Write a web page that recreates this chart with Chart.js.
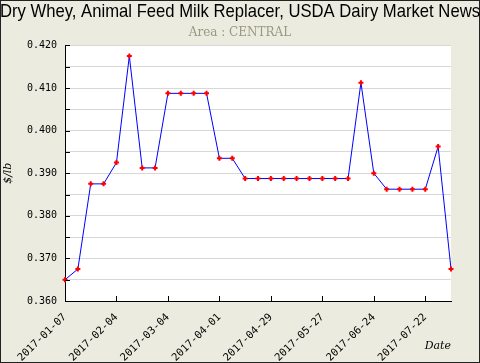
<!DOCTYPE html>
<html>
<head>
<meta charset="utf-8">
<script src="https://cdn.jsdelivr.net/npm/chart.js@4"></script>
<style>
  html, body { margin: 0; padding: 0; background: #fff; }
  canvas { display: block; }
</style>
</head>
<body>
<canvas id="wheyChart" width="480" height="363"></canvas>
<script>
// weekly report dates
const dates = [
    "2017-01-07", "2017-01-14", "2017-01-21", "2017-01-28",
    "2017-02-04", "2017-02-11", "2017-02-18", "2017-02-25",
    "2017-03-04", "2017-03-11", "2017-03-18", "2017-03-25",
    "2017-04-01", "2017-04-08", "2017-04-15", "2017-04-22",
    "2017-04-29", "2017-05-06", "2017-05-13", "2017-05-20",
    "2017-05-27", "2017-06-03", "2017-06-10", "2017-06-17",
    "2017-06-24", "2017-07-01", "2017-07-08", "2017-07-15",
    "2017-07-22", "2017-07-29", "2017-08-05"
];

// $/lb
const prices = [
    0.365, 0.3675, 0.3875, 0.3875,
    0.3925, 0.4175, 0.39125, 0.39125,
    0.40875, 0.40875, 0.40875, 0.40875,
    0.3935, 0.3935, 0.38875, 0.38875,
    0.38875, 0.38875, 0.38875, 0.38875,
    0.38875, 0.38875, 0.38875, 0.41125,
    0.39, 0.38625, 0.38625, 0.38625,
    0.38625, 0.39625, 0.3675
];

const yMin = 0.36;
const yMax = 0.42;
const yStep = 0.005;
const xLabelEvery = 4;

const bgColor = "#ebebdf";

// background, border and the white plot area
const framePlugin = {
    id: "frame",
    beforeDraw(chart) {
        const c = chart.ctx;
        const a = chart.chartArea;
        c.save();
        c.fillStyle = bgColor;
        c.fillRect(0, 0, chart.width, chart.height);
        c.strokeStyle = "#222";
        c.lineWidth = 1;
        c.strokeRect(0.5, 0.5, chart.width - 1, chart.height - 1);
        c.fillStyle = "#fff";
        c.fillRect(a.left, a.top, a.right - a.left, a.bottom - a.top);
        c.restore();
    },
    // small tick marks pointing into the plot
    afterDatasetsDraw(chart) {
        const c = chart.ctx;
        const a = chart.chartArea;
        const xs = chart.scales.x;
        const ys = chart.scales.y;
        c.save();
        c.strokeStyle = "#000";
        c.lineWidth = 1;
        c.beginPath();
        for (let i = 0; i < dates.length; i += xLabelEvery) {
            const px = Math.round(xs.getPixelForValue(i)) + 0.5;
            c.moveTo(px, a.bottom);
            c.lineTo(px, a.bottom - 5);
        }
        ys.ticks.forEach(t => {
            const py = Math.round(ys.getPixelForValue(t.value)) + 0.5;
            c.moveTo(a.left, py);
            c.lineTo(a.left + 5, py);
        });
        c.stroke();
        c.restore();
    }
};

const ctx = document.getElementById("wheyChart").getContext("2d");

new Chart(ctx, {
    type: "line",
    data: {
        labels: dates,
        datasets: [{
            data: prices,
            borderColor: "#0000ff",
            borderWidth: 1,
            tension: 0,
            fill: false,
            pointStyle: "cross",
            pointRadius: 2.5,
            pointBorderWidth: 2,
            pointBorderColor: "#ff0000",
            pointBackgroundColor: "#ff0000"
        }]
    },
    options: {
        responsive: false,
        animation: false,
        layout: {
            padding: 0
        },
        plugins: {
            legend: { display: false },
            tooltip: { enabled: false },
            title: {
                display: true,
                text: "Dry Whey, Animal Feed Milk Replacer, USDA Dairy Market News",
                color: "#000",
                font: { family: "'Liberation Sans', Arial, sans-serif", size: 17.7, weight: "normal" },
                padding: { top: 1.2, bottom: 0 }
            },
            subtitle: {
                display: true,
                text: "Area : CENTRAL",
                color: "#999980",
                font: { family: "'DejaVu Serif', serif", size: 12 },
                padding: { top: 2.8, bottom: 5.8 }
            }
        },
        scales: {
            x: {
                type: "category",
                afterFit(scale) { scale.height = 62; },
                grid: { display: true, drawOnChartArea: false, drawTicks: false, color: "rgba(0,0,0,0)" },
                border: { display: true, color: "#000", width: 1 },
                ticks: {
                    autoSkip: false,
                    minRotation: 44,
                    maxRotation: 44,
                    padding: 10,
                    color: "#000",
                    font: { family: "'DejaVu Sans Mono', monospace", size: 10.5 },
                    callback: (v, i) => (i % xLabelEvery === 0 ? dates[i] : "")
                },
                title: {
                    display: true,
                    text: "Date",
                    align: "end",
                    color: "#000",
                    font: { family: "'DejaVu Serif', serif", size: 11, style: "italic" },
                    padding: { top: 0, bottom: 10 }
                }
            },
            y: {
                min: yMin,
                max: yMax,
                afterFit(scale) { scale.width = 65; },
                grid: { color: "#d8d8d8", drawTicks: false },
                border: { display: true, color: "#000", width: 1 },
                ticks: {
                    stepSize: yStep,
                    padding: 8,
                    color: "#000",
                    font: { family: "'DejaVu Sans Mono', monospace", size: 10 },
                    callback: v => (Math.round(v * 1000) % 10 === 0 ? v.toFixed(3) : "")
                },
                title: {
                    display: true,
                    text: "$/lb",
                    color: "#000",
                    font: { family: "'DejaVu Serif', serif", size: 11, style: "italic" },
                    padding: { top: 2, bottom: 0 }
                }
            },
            // empty strip on the right of the plot
            right: {
                position: "right",
                display: true,
                afterFit(scale) { scale.width = 29; },
                grid: { display: false },
                border: { display: false },
                ticks: { display: false }
            }
        }
    },
    plugins: [framePlugin]
});
</script>
</body>
</html>
